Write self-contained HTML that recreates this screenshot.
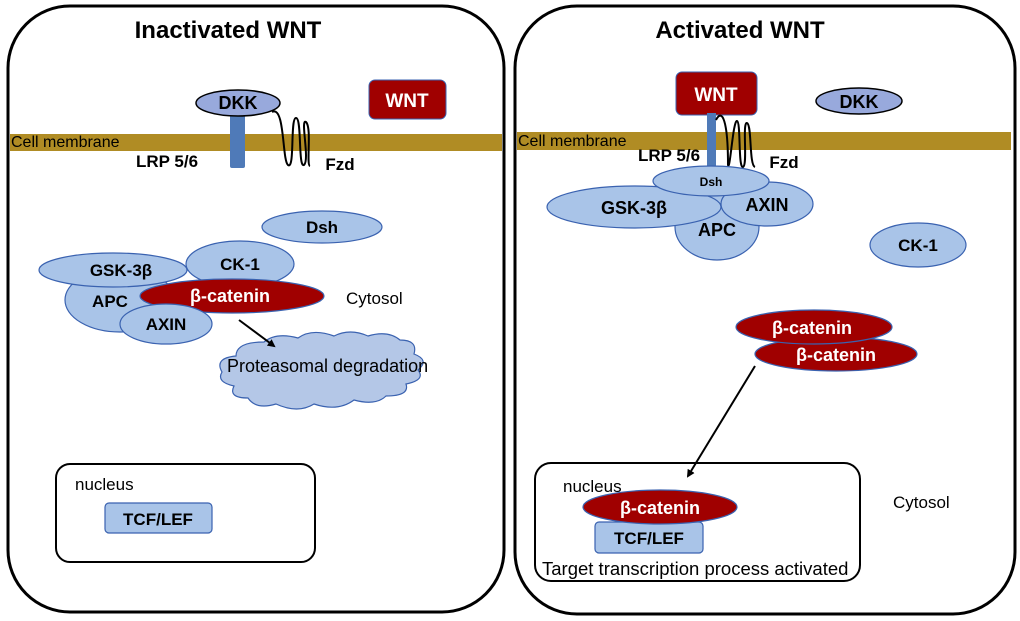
<!DOCTYPE html>
<html><head><meta charset="utf-8"><style>body{margin:0;background:#fff}svg{display:block}text{font-family:"Liberation Sans",sans-serif}</style></head><body>
<svg width="1020" height="621" viewBox="0 0 1020 621" xmlns="http://www.w3.org/2000/svg">
<defs><marker id="ah" markerWidth="8" markerHeight="8" refX="6" refY="4" orient="auto" markerUnits="userSpaceOnUse"><path d="M0,0 L8,4 L0,8 z" fill="#000"/></marker></defs>
<g fill="none" stroke="#000" stroke-width="3">
<rect x="8" y="6" width="496" height="606" rx="62"/>
<rect x="515" y="6" width="500" height="608" rx="62"/>
</g>
<text x="228" y="38" font-size="24" font-weight="bold" text-anchor="middle">Inactivated WNT</text>
<text x="740" y="38" font-size="24" font-weight="bold" text-anchor="middle">Activated WNT</text>
<rect x="10" y="134" width="492" height="17" fill="#b08c24"/>
<rect x="517" y="132" width="494" height="18" fill="#b08c24"/>
<text x="11" y="147" font-size="16">Cell membrane</text>
<text x="518" y="146" font-size="16">Cell membrane</text>
<g font-weight="bold" text-anchor="middle" font-size="17">
<!-- LEFT -->
<rect x="230" y="111" width="15" height="57" rx="2" fill="#4f7ab8"/>
<ellipse cx="238" cy="103" rx="42" ry="13" fill="#98a9dc" stroke="#000" stroke-width="1.5"/>
<text x="238" y="109" font-size="18">DKK</text>
<path d="M272,112 C285,105 282,160 288,165 C295,170 290,118 296,118 C302,118 298,168 304,165 C310,160 300,118 306,122 C312,128 306,165 310,166" fill="none" stroke="#000" stroke-width="2"/>
<text x="167" y="167">LRP 5/6</text>
<text x="340" y="170">Fzd</text>
<rect x="369" y="80" width="77" height="39" rx="6" fill="#a00000" stroke="#3a62b0" stroke-width="1"/>
<text x="407" y="107" font-size="19" fill="#fff">WNT</text>
<ellipse cx="322" cy="227" rx="60" ry="16" fill="#a9c4e8" stroke="#3a62b0" stroke-width="1.2"/>
<text x="322" y="233">Dsh</text>
<ellipse cx="120" cy="300" rx="55" ry="32" fill="#a9c4e8" stroke="#3a62b0" stroke-width="1.2"/>
<ellipse cx="113" cy="270" rx="74" ry="17" fill="#a9c4e8" stroke="#3a62b0" stroke-width="1.2"/>
<text x="121" y="276">GSK-3β</text>
<text x="110" y="307">APC</text>
<ellipse cx="240" cy="264" rx="54" ry="23" fill="#a9c4e8" stroke="#3a62b0" stroke-width="1.2"/>
<text x="240" y="270">CK-1</text>
<ellipse cx="232" cy="296" rx="92" ry="17" fill="#a00000" stroke="#3a62b0" stroke-width="1.2"/>
<text x="230" y="302" fill="#fff" font-size="18">β-catenin</text>
<ellipse cx="166" cy="324" rx="46" ry="20" fill="#a9c4e8" stroke="#3a62b0" stroke-width="1.2"/>
<text x="166" y="330">AXIN</text>
<path d="M222,372 q-8,-14 14,-16 q0,-14 28,-14 q12,-10 34,-4 q14,-10 36,-2 q16,-8 34,0 q20,-6 32,4 q18,0 14,14 q16,6 4,16 q8,10 -12,14 q4,12 -20,12 q-10,10 -32,4 q-16,12 -40,4 q-16,10 -38,0 q-20,6 -28,-6 q-20,0 -14,-12 q-18,-4 -12,-14 z" fill="#b4c7e7" stroke="#3a62b0" stroke-width="1.2"/>
<line x1="239" y1="320" x2="274" y2="346" stroke="#000" stroke-width="2" marker-end="url(#ah)"/>
<rect x="56" y="464" width="259" height="98" rx="14" fill="none" stroke="#000" stroke-width="2"/>
<rect x="105" y="503" width="107" height="30" rx="4" fill="#a9c4e8" stroke="#3a62b0" stroke-width="1.2"/>
<text x="158" y="525">TCF/LEF</text>
<!-- RIGHT -->
<rect x="676" y="72" width="81" height="43" rx="6" fill="#a00000" stroke="#3a62b0" stroke-width="1"/>
<text x="716" y="101" font-size="19" fill="#fff">WNT</text>
<rect x="707" y="113" width="9" height="54" fill="#4f7ab8"/>
<path d="M716,120 C722,108 728,120 728,165 C730,172 733,120 737,121 C741,122 738,168 743,167 C748,165 742,122 747,123 C752,125 749,165 755,167" fill="none" stroke="#000" stroke-width="2"/>
<ellipse cx="859" cy="101" rx="43" ry="13" fill="#98a9dc" stroke="#000" stroke-width="1.5"/>
<text x="859" y="108" font-size="18">DKK</text>
<text x="669" y="161">LRP 5/6</text>
<text x="784" y="168">Fzd</text>
<ellipse cx="717" cy="227" rx="42" ry="33" fill="#a9c4e8" stroke="#3a62b0" stroke-width="1.2"/>
<ellipse cx="634" cy="207" rx="87" ry="21" fill="#a9c4e8" stroke="#3a62b0" stroke-width="1.2"/>
<ellipse cx="767" cy="204" rx="46" ry="22" fill="#a9c4e8" stroke="#3a62b0" stroke-width="1.2"/>
<ellipse cx="711" cy="181" rx="58" ry="15" fill="#a9c4e8" stroke="#3a62b0" stroke-width="1.2"/>
<text x="711" y="186" font-size="12">Dsh</text>
<text x="634" y="214" font-size="18">GSK-3β</text>
<text x="767" y="211" font-size="18">AXIN</text>
<text x="717" y="236" font-size="18">APC</text>
<ellipse cx="918" cy="245" rx="48" ry="22" fill="#a9c4e8" stroke="#3a62b0" stroke-width="1.2"/>
<text x="918" y="251">CK-1</text>
<ellipse cx="836" cy="354" rx="81" ry="17" fill="#a00000" stroke="#3a62b0" stroke-width="1.2"/>
<text x="836" y="361" fill="#fff" font-size="18">β-catenin</text>
<ellipse cx="814" cy="327" rx="78" ry="17" fill="#a00000" stroke="#3a62b0" stroke-width="1.2"/>
<text x="812" y="334" fill="#fff" font-size="18">β-catenin</text>
<line x1="755" y1="366" x2="688" y2="476" stroke="#000" stroke-width="2" marker-end="url(#ah)"/>
<rect x="535" y="463" width="325" height="118" rx="16" fill="none" stroke="#000" stroke-width="2"/>
<rect x="595" y="522" width="108" height="31" rx="4" fill="#a9c4e8" stroke="#3a62b0" stroke-width="1.2"/>
<text x="649" y="544">TCF/LEF</text>
<ellipse cx="660" cy="507" rx="77" ry="17" fill="#a00000" stroke="#3a62b0" stroke-width="1.2"/>
<text x="660" y="514" fill="#fff" font-size="18">β-catenin</text>
</g>
<g font-size="17">
<text x="346" y="304">Cytosol</text>
<text x="227" y="372" font-size="18">Proteasomal degradation</text>
<text x="75" y="490">nucleus</text>
<text x="563" y="492">nucleus</text>
<text x="542" y="575" font-size="18.5">Target transcription process activated</text>
<text x="893" y="508">Cytosol</text>
</g>
</svg>
</body></html>
